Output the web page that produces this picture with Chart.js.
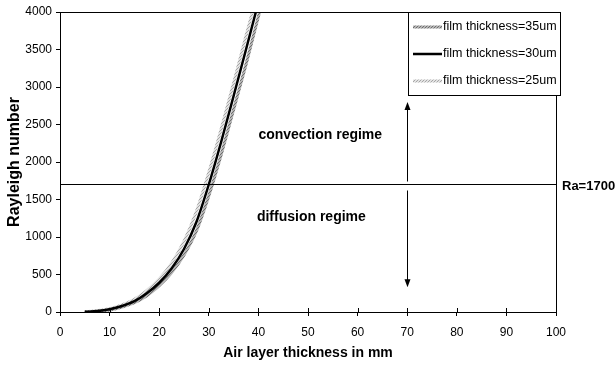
<!DOCTYPE html>
<html>
<head>
<meta charset="utf-8">
<script src="https://cdn.jsdelivr.net/npm/chart.js@4.4.1/dist/chart.umd.min.js"></script>
<style>
html, body { margin: 0; padding: 0; background: #fff; }
</style>
</head>
<body>
<canvas id="rayleigh" width="616" height="369"></canvas>
<script>
// air layer thickness (mm) and Rayleigh number for each film thickness
var airGap = [5, 7.5, 10, 12.5, 15, 17.5, 20, 22.5, 25, 27.5, 30, 32.5, 35, 37.5, 40, 42.5];
var ra35 = [0, 8, 28, 67, 125, 218, 350, 525, 760, 1080, 1550, 2100, 2700, 3300, 3940, 4560];
var ra30 = [2, 12, 36, 80, 145, 250, 390, 580, 840, 1200, 1700, 2270, 2880, 3500, 4130, 4760];
var ra25 = [3, 16, 44, 94, 168, 285, 440, 650, 940, 1340, 1860, 2440, 3050, 3680, 4300, 4940];
var seriesLabels = ["film thickness=35um", "film thickness=30um", "film thickness=25um"];

var xMin = 0, xMax = 100, xStep = 10;
var yMin = 0, yMax = 4000, yStep = 500;

var raCritical = 1700;
var arrowX = 70, arrowTop = 2800, arrowBottom = 330;

var FONT = "'Liberation Sans', Arial, sans-serif";
Chart.defaults.font.family = FONT;
Chart.defaults.color = '#000';

function points(ys) {
    return airGap.map(function (x, i) { return { x: x, y: ys[i] }; });
}

// small diagonal hatch used as stroke for the grey series
function hatch(base, stripe) {
    var c = document.createElement('canvas');
    c.width = 3; c.height = 3;
    var g = c.getContext('2d');
    g.fillStyle = base;
    g.fillRect(0, 0, 3, 3);
    g.fillStyle = stripe;
    for (var i = 0; i < 3; i++) g.fillRect(i, 2 - i, 1, 1);
    return g.createPattern(c, 'repeat');
}

// box around the plot area, inner half of the x ticks
var frame = {
    id: 'frame',
    afterDraw: function (chart) {
        var ctx = chart.ctx, a = chart.chartArea, xs = chart.scales.x;
        ctx.save();
        ctx.strokeStyle = '#000';
        ctx.lineWidth = 1;
        ctx.beginPath();
        ctx.moveTo(a.left, Math.round(a.top) + 0.5);
        ctx.lineTo(Math.round(a.right) + 0.5, Math.round(a.top) + 0.5);
        ctx.lineTo(Math.round(a.right) + 0.5, a.bottom);
        xs.ticks.forEach(function (t) {
            var px = Math.round(xs.getPixelForValue(t.value)) + 0.5;
            ctx.moveTo(px, a.bottom - 4);
            ctx.lineTo(px, a.bottom);
        });
        ctx.stroke();
        ctx.restore();
    }
};

// regime labels, Ra=1700 label and arrows
var notes = {
    id: 'notes',
    afterDatasetsDraw: function (chart) {
        var ctx = chart.ctx, xs = chart.scales.x, ys = chart.scales.y;
        var a = chart.chartArea;
        ctx.save();
        ctx.fillStyle = '#000';
        ctx.textBaseline = 'middle';
        ctx.textAlign = 'left';
        ctx.font = 'bold 14px ' + FONT;
        ctx.fillText('convection regime', xs.getPixelForValue(40), ys.getPixelForValue(2360));
        ctx.fillText('diffusion regime', xs.getPixelForValue(39.7), ys.getPixelForValue(1270));

        var line = chart.data.datasets[3];
        var yc = ys.getPixelForValue(line.data[1].y);
        ctx.font = 'bold 13px ' + FONT;
        ctx.fillText(line.label, a.right + 6, yc + 2);

        var ax = Math.round(xs.getPixelForValue(arrowX)) + 0.5;
        var yTop = ys.getPixelForValue(arrowTop);
        var yBot = ys.getPixelForValue(arrowBottom);
        ctx.strokeStyle = '#000';
        ctx.lineWidth = 1;
        ctx.beginPath();
        ctx.moveTo(ax, yc - 3);
        ctx.lineTo(ax, yTop + 6);
        ctx.moveTo(ax, yc + 6);
        ctx.lineTo(ax, yBot - 6);
        ctx.stroke();
        ctx.beginPath();
        ctx.moveTo(ax, yTop);
        ctx.lineTo(ax - 3, yTop + 8);
        ctx.lineTo(ax + 3, yTop + 8);
        ctx.closePath();
        ctx.moveTo(ax, yBot);
        ctx.lineTo(ax - 3, yBot - 8);
        ctx.lineTo(ax + 3, yBot - 8);
        ctx.closePath();
        ctx.fill();
        ctx.restore();
    }
};

// boxed legend in the top right corner of the plot
var boxLegend = {
    id: 'boxLegend',
    afterDraw: function (chart) {
        var ctx = chart.ctx, a = chart.chartArea;
        var left = a.right - 148, top = a.top, w = 152, h = 83;
        ctx.save();
        ctx.fillStyle = '#fff';
        ctx.fillRect(left, top, w, h);
        ctx.strokeStyle = '#000';
        ctx.lineWidth = 1;
        ctx.strokeRect(Math.round(left) + 0.5, Math.round(top) + 0.5, w, h);
        ctx.font = '12.5px ' + FONT;
        ctx.textBaseline = 'middle';
        ctx.textAlign = 'left';
        for (var i = 0; i < 3; i++) {
            var ds = chart.data.datasets[i];
            var y = top + 15 + i * 27;
            ctx.strokeStyle = ds.borderColor;
            ctx.lineWidth = ds.borderWidth;
            ctx.beginPath();
            ctx.moveTo(left + 5, y);
            ctx.lineTo(left + 34, y);
            ctx.stroke();
            ctx.fillStyle = '#000';
            ctx.fillText(ds.label, left + 35, y);
        }
        ctx.restore();
    }
};

var ctx = document.getElementById('rayleigh');
var chart = new Chart(ctx, {
    type: 'scatter',
    data: {
        datasets: [
            { label: seriesLabels[0], data: points(ra35), borderColor: hatch('#b4b4b4', '#6e6e6e'), borderWidth: 3, order: 2 },
            { label: seriesLabels[1], data: points(ra30), borderColor: '#000', borderWidth: 2.5, order: 1 },
            { label: seriesLabels[2], data: points(ra25), borderColor: hatch('#e2e2e2', '#a6a6a6'), borderWidth: 3, order: 3 },
            { label: 'Ra=' + raCritical, data: [{ x: xMin, y: raCritical }, { x: xMax, y: raCritical }],
              borderColor: '#000', borderWidth: 1, order: 0 }
        ]
    },
    options: {
        responsive: false,
        animation: false,
        showLine: true,
        elements: {
            point: { radius: 0, hoverRadius: 0 },
            line: { cubicInterpolationMode: 'monotone', fill: false }
        },
        layout: { padding: { left: 0, top: 12, right: 60, bottom: 0 } },
        plugins: {
            legend: { display: false },
            tooltip: { enabled: false }
        },
        scales: {
            x: {
                type: 'linear',
                min: xMin, max: xMax,
                ticks: { stepSize: xStep, font: { size: 12 }, color: '#000', padding: 9, maxRotation: 0 },
                grid: { drawOnChartArea: false, tickLength: 4, color: '#000' },
                border: { color: '#000', width: 1 },
                title: { display: true, text: 'Air layer thickness in mm', color: '#000',
                         font: { size: 14, weight: 'bold' }, padding: { top: 0, bottom: 7 } },
                afterFit: function (s) { s.height = 57; }
            },
            y: {
                min: yMin, max: yMax,
                ticks: { stepSize: yStep, font: { size: 12 }, color: '#000', padding: 4,
                         callback: function (v) { return String(v); } },
                grid: { drawOnChartArea: false, tickLength: 4, color: '#000' },
                border: { color: '#000', width: 1 },
                title: { display: true, text: 'Rayleigh number', color: '#000',
                         font: { size: 16, weight: 'bold' }, padding: { top: 5, bottom: 0 } },
                afterFit: function (s) { s.width = 60; }
            }
        }
    },
    plugins: [frame, notes, boxLegend]
});
</script>
</body>
</html>
